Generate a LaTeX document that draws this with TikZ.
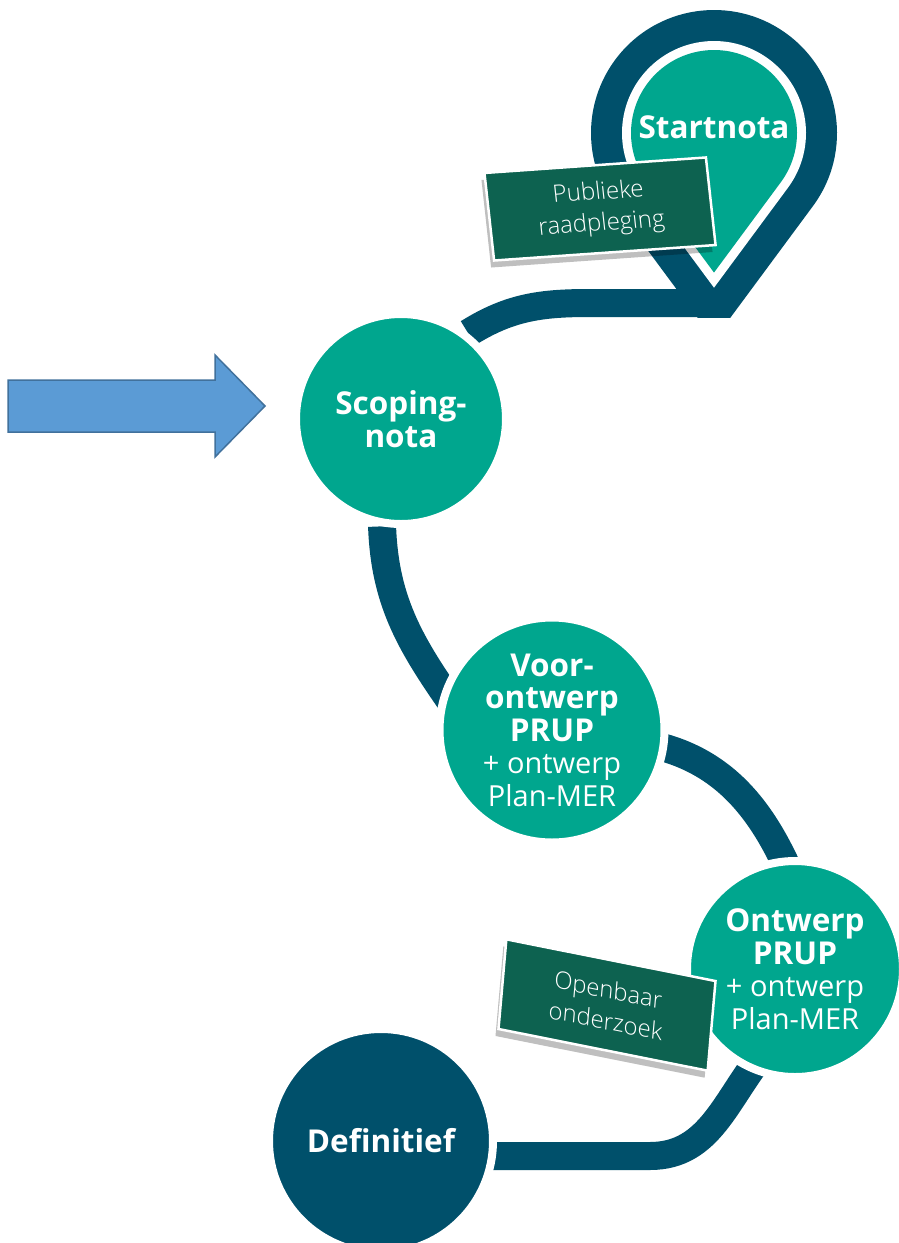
\documentclass[tikz,border=0pt]{standalone}
\usepackage{fontspec}
\setmainfont{Open Sans}
\newfontfamily\lightfont{Open Sans Light}
\usetikzlibrary{positioning,calc,backgrounds,shadows}
\definecolor{tealc}{HTML}{00A68E}
\definecolor{roadc}{HTML}{00506B}
\definecolor{boxc}{HTML}{0D6250}
\definecolor{arrowfill}{HTML}{5B9BD5}
\definecolor{arrowline}{HTML}{41719C}
\newcommand{\hd}[1]{{\fontsize{31.5}{33}\selectfont\bfseries #1}}
\tikzstyle{stage}=[circle, fill=tealc, draw=white, line width=8pt, inner sep=0pt,
                   text=white, align=center, font=\fontsize{29}{32.5}\selectfont]
\tikzstyle{endstage}=[stage, fill=roadc]
\tikzstyle{labelbox}=[rectangle, fill=boxc, draw=white, line width=2.5pt, text=white,
                      align=center, font=\lightfont\fontsize{24}{31}\selectfont,
                      drop shadow={shadow xshift=-3pt, shadow yshift=-7pt, opacity=0.25, fill=black}]
\tikzstyle{roadline}=[-, draw=roadc, line width=28pt]
\tikzstyle{bluearrow}=[fill=arrowfill, draw=arrowline, line width=1.5pt, line join=miter]
\newcommand{\droppath}[1]{($(PINC)+(270:{#1/sin(36.5)})$) -- ($(PINC)+(-36.5:#1)$)
  arc[start angle=-36.5, end angle=216.5, radius=#1] -- cycle}

\begin{document}
\begin{tikzpicture}[x=1pt,y=1pt]
\useasboundingbox (0,0) rectangle (899,-1243);

\node (SCOPING) [stage, minimum size=210pt] at (401,-419) {\hd{Scoping-}\\\hd{nota}};
\node (VOOR) [stage, minimum size=225pt] at (552,-730) {\hd{Voor-}\\\hd{ontwerp}\\\hd{PRUP}\\+ ontwerp\\Plan-MER};
\node (ONTWERP) [stage, minimum size=216pt] at (795,-969) {\hd{Ontwerp}\\\hd{PRUP}\\+ ontwerp\\Plan-MER};
\node (DEFIN) [endstage, minimum size=224pt] at (381,-1141) {\hd{Definitief}};

\coordinate (PINC) at (714,-133);
\coordinate (PINTIP) at (714,-303);
\coordinate (RB1) at (590,-303);
\coordinate (RB4) at (650,-1156);

\begin{scope}[on background layer]
\fill[white] (0,0) rectangle (899,-1243);
\draw[roadline] (SCOPING.52) to[out=32,in=180] (RB1) -- (PINTIP);
\draw[roadline] (SCOPING.260) to[out=-88,in=125] ($(VOOR.160)+(-55:25)$);
\draw[roadline] ($(VOOR.-8)+(172:25)$) to[out=-10,in=113] ($(ONTWERP.96)+(-67:25)$);
\draw[roadline] ($(ONTWERP.250)+(70:25)$) to[out=230,in=0] (RB4) -- (RB4 -| DEFIN);
\end{scope}

\begin{scope}
\clip (0,-317) rectangle (899,0);
\fill[roadc] \droppath{123};
\end{scope}
\fill[white] \droppath{92};
\fill[tealc] \droppath{83};
\node (STARTNOTA) [text=white, font=\fontsize{29}{32}\selectfont] at (714,-127) {\hd{Startnota}};

\node (PUBLIEK) [labelbox, rotate=4, xslant=-0.04, minimum width=222pt, minimum height=88pt]
  at (600,-209) {Publieke\\raadpleging};
\node (OPENBAAR) [labelbox, rotate=-5, yslant=-0.11, minimum width=212pt, minimum height=90pt]
  at (607,-1005) {Openbaar\\onderzoek};

\draw[bluearrow] (8,-380) -- (215,-380) -- (215,-355) -- (265,-406) -- (215,-457)
  -- (215,-432) -- (8,-432) -- cycle;

\end{tikzpicture}
\end{document}
